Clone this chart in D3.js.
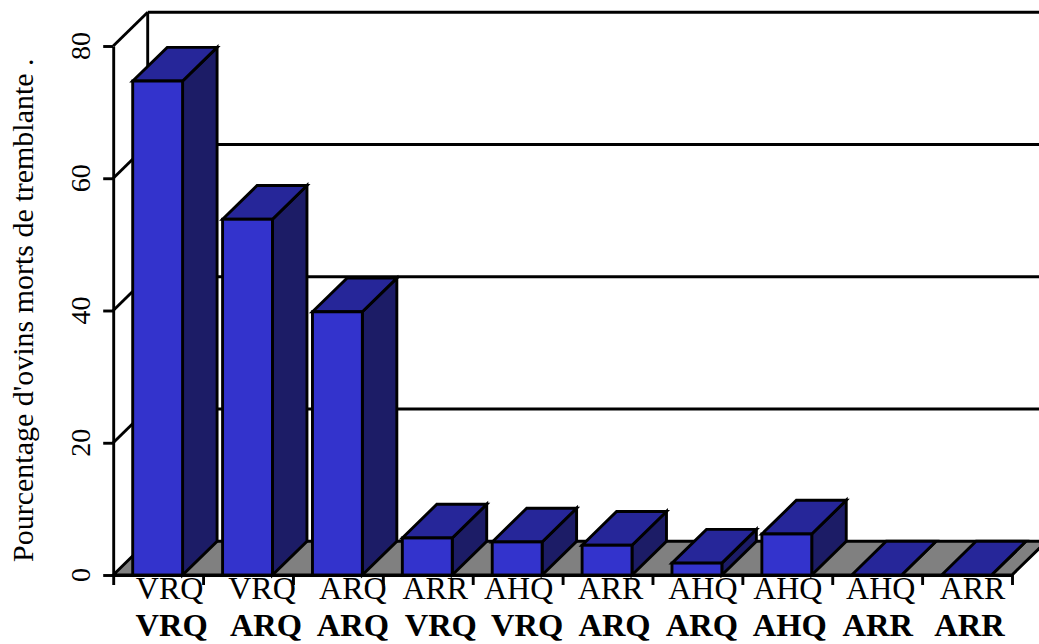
<!DOCTYPE html>
<html>
<head>
<meta charset="utf-8">
<script src="https://cdn.jsdelivr.net/npm/d3@7"></script>
<style>
  html, body { margin: 0; padding: 0; background: #fff; }
  svg { display: block; }
  text { font-family: "Liberation Serif", serif; fill: #000; }
</style>
</head>
<body>
<svg width="1039" height="644"></svg>
<script>
// -------------------- DATA --------------------
const allele1 = ["VRQ", "VRQ", "ARQ", "ARR", "AHQ", "ARR", "AHQ", "AHQ", "AHQ", "ARR"];
const allele2 = ["VRQ", "ARQ", "ARQ", "VRQ", "VRQ", "ARQ", "ARQ", "AHQ", "ARR", "ARR"];
const values = [74.7, 53.8, 39.8, 5.6, 5.0, 4.5, 1.8, 6.2, 0, 0];
const yTicks = [0, 20, 40, 60, 80];
const yTitle = "Pourcentage d'ovins morts de tremblante .";

// labels in the original were placed by hand, not centred under the bars
const nudge1 = [12, 14.5, 15.5, 8, 1.5, 3.5, 6, 1, 4, 6];
const nudge2 = [14, 18.5, 15.5, 13.5, 10, 7.5, 5, 3, 1, 3];

// -------------------- SCALES --------------------
const W = 1039;
const depthX = 34.5, depthY = -33.7;
const sw = 2.9;
const svg = d3.select("svg");
const y = d3.scaleLinear().domain([0, 80]).range([575, 46]);
const x = d3.scaleBand().domain(d3.range(values.length)).range([112.7, 1011.5]).paddingInner(0.445).paddingOuter(0.2225);
const edge = d3.scaleLinear().domain([0, values.length]).range([113.2, 1012]);

const poly = pts => "M" + pts.map(p => p.join(",")).join("L") + "Z";
const lineStyle = sel => sel.attr("stroke", "#000").attr("stroke-width", sw).attr("fill", "none");

// -------------------- WALLS --------------------
const walls = svg.append("g");
yTicks.slice(1).forEach(t => {
  walls.append("line").attr("x1", edge(0) + depthX).attr("x2", W)
    .attr("y1", y(t) + depthY).attr("y2", y(t) + depthY).call(lineStyle);
  walls.append("line").attr("x1", edge(0)).attr("x2", edge(0) + depthX)
    .attr("y1", y(t)).attr("y2", y(t) + depthY).call(lineStyle);
});
walls.append("line").attr("x1", edge(0) + depthX).attr("x2", edge(0) + depthX)
  .attr("y1", y(80) + depthY).attr("y2", y(0) + depthY).call(lineStyle);

// -------------------- FLOOR --------------------
walls.append("path")
  .attr("d", poly([[edge(0), y(0)], [edge(10), y(0)], [edge(10) + depthX, y(0) + depthY], [edge(0) + depthX, y(0) + depthY]]))
  .attr("fill", "#808080").attr("stroke", "#000").attr("stroke-width", sw);

// -------------------- BARS --------------------
const bars = svg.append("g").selectAll("g").data(values).enter().append("g")
  .attr("stroke", "#000").attr("stroke-width", sw).attr("stroke-linejoin", "miter");

bars.append("path") // side
  .attr("fill", "#1c1c66")
  .attr("d", (d, i) => {
    const r = x(i) + x.bandwidth();
    return poly([[r, y(d)], [r + depthX, y(d) + depthY], [r + depthX, y(0) + depthY], [r, y(0)]]);
  });
bars.append("path") // top
  .attr("fill", "#262699")
  .attr("d", (d, i) => {
    const l = x(i), r = l + x.bandwidth();
    return poly([[l, y(d)], [r, y(d)], [r + depthX, y(d) + depthY], [l + depthX, y(d) + depthY]]);
  });
bars.filter(d => d > 0).append("rect") // front
  .attr("fill", "#3333cc")
  .attr("x", (d, i) => x(i))
  .attr("y", d => y(d))
  .attr("width", x.bandwidth())
  .attr("height", d => y(0) - y(d));

// -------------------- AXES --------------------
const axisY = svg.append("g").attr("transform", `translate(${edge(0)},0)`)
  .call(d3.axisLeft(y).tickValues(yTicks).tickSize(10).tickSizeOuter(0).tickFormat(d3.format("d")));
axisY.selectAll("line, path").attr("stroke", "#000").attr("stroke-width", sw);
axisY.selectAll("text").remove();
yTicks.forEach(t => {
  svg.append("text").attr("transform", `translate(89.5,${y(t)}) rotate(-90)`)
    .attr("text-anchor", "middle").attr("font-size", 28).text(t);
});

const axisX = svg.append("g").attr("transform", `translate(0,${y(0)})`)
  .call(d3.axisBottom(edge).tickValues(d3.range(values.length + 1)).tickSize(10).tickSizeOuter(0).tickFormat(""));
axisX.selectAll("line, path").attr("stroke", "#000").attr("stroke-width", sw);

// -------------------- LABELS --------------------
const labelCentre = i => x(i) + x.bandwidth() / 2;
svg.append("g").selectAll("text").data(allele1).enter().append("text")
  .attr("x", (d, i) => labelCentre(i) + nudge1[i]).attr("y", 599)
  .attr("text-anchor", "middle").attr("font-size", 32).text(d => d);
svg.append("g").selectAll("text").data(allele2).enter().append("text")
  .attr("x", (d, i) => labelCentre(i) + nudge2[i]).attr("y", 636)
  .attr("text-anchor", "middle").attr("font-size", 32.5).attr("font-weight", "bold").text(d => d);

svg.append("text").attr("transform", "translate(33,562) rotate(-90)")
  .attr("text-anchor", "start").attr("font-size", 30).text(yTitle);
</script>
</body>
</html>
